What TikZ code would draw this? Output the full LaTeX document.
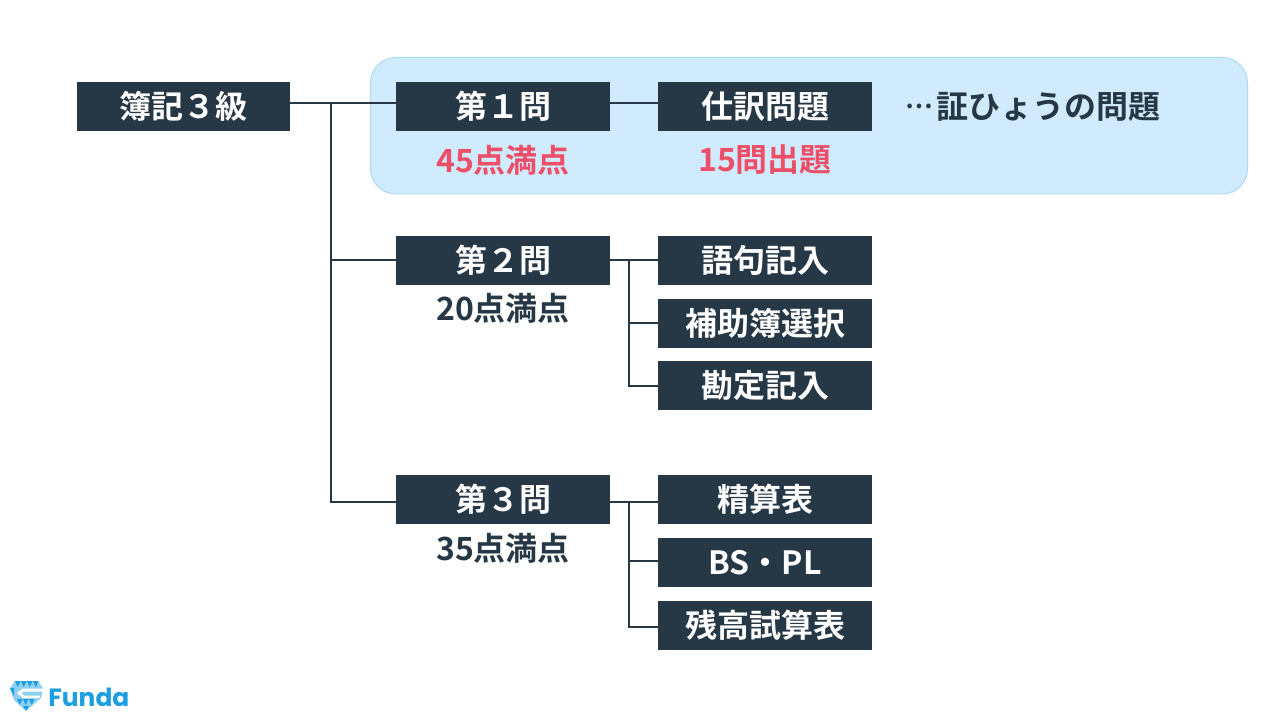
\documentclass[tikz,border=0pt]{standalone}
\usepackage{fontspec}
\setmainfont{Noto Sans CJK JP}[BoldFont={Noto Sans CJK JP Bold}]
\newfontfamily\logofont{Poppins}[UprightFont={* Bold}]
\definecolor{navy}{HTML}{263845}
\definecolor{panel}{HTML}{CFEBFD}
\definecolor{panelline}{HTML}{AFDAEF}
\definecolor{pink}{HTML}{EC4F67}
\definecolor{logoblue}{HTML}{1C9FE2}
\definecolor{logolight}{HTML}{8FD0F2}
\tikzset{
	box/.style={fill=navy,text=white,minimum width=160.5pt,minimum height=36.75pt,inner sep=0pt,font=\fontsize{24}{24}\selectfont\bfseries},
	score/.style={text=navy,inner sep=0pt,font=\fontsize{24}{24}\selectfont\bfseries},
	link/.style={draw=navy,line width=1.5pt}
}
\begin{document}
\begin{tikzpicture}[line cap=butt,line join=miter,x=0.75pt,y=-0.75pt]
	\useasboundingbox (0,0) rectangle (1280,720);
	\fill[white] (0,0) rectangle (1280,720);
	\draw[fill=panel,draw=panelline,line width=0.75pt,rounded corners=19pt] (370.5,57.5) rectangle (1247.5,194);
	% boxes
	\node[box,minimum width=160pt] (main) at (183.5,106.5) {簿記３級};
	\node[box] (qone) at (503,106.5) {第１問};
	\node[box] (qtwo) at (503,260.5) {第２問};
	\node[box] (qthree) at (503,499.5) {第３問};
	\node[box] (shiwake) at (765,106.5) {仕訳問題};
	\node[box] (goku) at (765,260.5) {語句記入};
	\node[box] (hojo) at (765,323.5) {補助簿選択};
	\node[box] (kanjo) at (765,385.75) {勘定記入};
	\node[box] (seisan) at (765,499.5) {精算表};
	\node[box] (bspl) at (765,562.5) {BS・PL};
	\node[box] (zandaka) at (765,625.5) {残高試算表};
	% scores
	\node[score,text=pink] (sone) at (503,160) {45点満点};
	\node[score] (stwo) at (503,308) {20点満点};
	\node[score] (sthree) at (503,548) {35点満点};
	\node[score,text=pink] (count) at (765,160) {15問出題};
	\node[score,anchor=west] (note) at (905,106.5) {\raisebox{7pt}{\makebox[23.6pt][l]{\scalebox{0.78}{…}}}証ひょうの問題};
	% connectors
	\coordinate (trunk) at (330.5,103.5);
	\coordinate (forktwo) at (628.5,259.5);
	\coordinate (forkthree) at (628.5,501.5);
	\draw[link] ([yshift=2.25pt]main.east) -- ([yshift=2.25pt]qone.west);
	\draw[link] ([yshift=2.25pt]qone.east) -- ([yshift=2.25pt]shiwake.west);
	\draw[link] (trunk) |- ([yshift=0.75pt]qtwo.west);
	\draw[link] (trunk) |- ([yshift=-1.5pt]qthree.west);
	\draw[link] ([yshift=0.75pt]qtwo.east) -- ([yshift=0.75pt]goku.west);
	\draw[link] (forktwo) |- ([yshift=0.4pt]hojo.west);
	\draw[link] (forktwo) |- ([yshift=-0.55pt]kanjo.west);
	\draw[link] ([yshift=-1.5pt]qthree.east) -- ([yshift=-1.5pt]seisan.west);
	\draw[link] (forkthree) |- ([yshift=1pt]bspl.west);
	\draw[link] (forkthree) |- ([yshift=-1.1pt]zandaka.west);
	% logo
	\fill[logolight] (10,688) -- (15,681) -- (38,681) -- (43,688) -- (41,698) -- (26,711) -- (14,700) -- cycle;
	\foreach \a in {15,21,27,33}
		\fill[logoblue] (\a,681) -- (\a+5.5,681) -- (\a+2.75,687) -- cycle;
	\foreach \a in {17,23,29}
		\fill[logoblue] (\a,699) -- (\a+5.5,699) -- (\a+2.75,705) -- cycle;
	\fill[logoblue] (10,688) -- (14,688) -- (14,696) -- cycle;
	\fill[logoblue] (23,706) -- (29,706) -- (26,710.5) -- cycle;
	\fill[white] (17,693) -- (23,688.5) -- (43.5,688.5) -- (43,691.5) -- (24,691.5) -- (21.5,693) -- (24,695.5) -- (40,695.5) -- (39.5,698) -- (23,698) -- cycle;
	\node[anchor=west,inner sep=0pt,text=logoblue,font=\logofont\fontsize{18.7}{18.7}\selectfont] (logo) at (48,697) {Funda};
\end{tikzpicture}
\end{document}
